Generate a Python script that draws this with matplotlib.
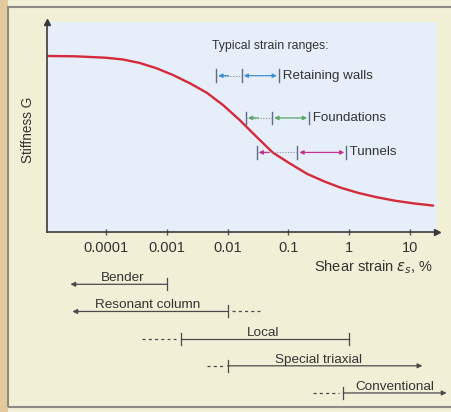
import numpy as np
import matplotlib.pyplot as plt
from matplotlib.patches import Rectangle

plt.rcParams['font.family'] = ['Liberation Sans', 'DejaVu Sans']

# stiffness degradation curve (normalised G vs shear strain in %)
strain = [1.07e-5, 3.16e-5, 1e-4, 1.9e-4, 3.6e-4, 6.8e-4, 1.26e-3, 2.4e-3, 4.6e-3,
          8.5e-3, 0.0158, 0.0295, 0.055, 0.105, 0.204, 0.39, 0.72, 1.41, 2.8,
          5.6, 11.2, 24]
stiffness = [1.0, 0.998, 0.99, 0.98, 0.96, 0.93, 0.892, 0.845, 0.79,
             0.72, 0.636, 0.543, 0.452, 0.39, 0.33, 0.287, 0.252, 0.222, 0.198,
             0.178, 0.163, 0.15]

xticks = [1e-4, 1e-3, 1e-2, 1e-1, 1, 10]
xticklabels = ['0.0001', '0.001', '0.01', '0.1', '1', '10']

# typical strain ranges: start, mid, end strain, level on G axis, colour
app_labels = ['Retaining walls', 'Foundations', 'Tunnels']
app_start = [0.0065, 0.020, 0.030]
app_mid = [0.017, 0.054, 0.14]
app_end = [0.07, 0.22, 0.9]
app_level = [0.888, 0.648, 0.452]
app_colors = ['#3d8fd6', '#5aa866', '#c2338f']

# measurement techniques below the axis
tech_labels = ['Bender', 'Resonant column', 'Local', 'Special triaxial', 'Conventional']
tech_dash_from = [None, None, 3.9e-4, 4.6e-3, 0.25]
tech_tick = [1e-3, 0.01, 0.0017, 0.01, 0.8]
tech_solid_to = [2.6e-5, 2.8e-5, 1.0, 16, 40]
tech_end_style = ['arrow', 'arrow', 'tick', 'arrow', 'arrow']
tech_dash_after = [None, 0.034, None, None, None]
tech_label_x = [1.9e-4, 4.9e-4, 0.038, 0.31, 5.6]

W, H = 452, 412
fig = plt.figure(figsize=(W / 100, H / 100), dpi=100)
fig.patch.set_facecolor('#f1efd6')
fig.patches.append(Rectangle((0, 0), 8 / W, 1, transform=fig.transFigure,
                             facecolor='#e4c99c', edgecolor='none', zorder=0))
fig.patches.append(Rectangle((8 / W, 5 / H), 1, 1 - 12 / H, transform=fig.transFigure,
                             facecolor='none', edgecolor='#8c8c82', lw=1.5, zorder=1))

# main axes
ax = fig.add_axes([47 / W, (H - 232) / H, 390 / W, 210 / H])
ax.set_facecolor('#e6eef9')
ax.set_xscale('log')
ax.set_xlim(10 ** -4.97, 10 ** 1.444)
ax.set_ylim(0, 1.193)
ax.plot(strain, stiffness, color='#d42a3c', lw=1.7, solid_capstyle='round')

ax.set_xticks(xticks)
ax.set_xticklabels(xticklabels)
ax.minorticks_off()
ax.set_yticks([])
ax.tick_params(axis='x', direction='inout', length=5, width=1, color='#555555',
               labelsize=10.5, labelcolor='#333333', pad=4)
for s in ['top', 'right']:
    ax.spines[s].set_visible(False)
for s in ['left', 'bottom']:
    ax.spines[s].set_color('#3a3a3a')
    ax.spines[s].set_linewidth(1.2)
ax.plot(1, 0, '>', color='#3a3a3a', ms=4, transform=ax.transAxes, clip_on=False)
ax.plot(0, 1, '^', color='#3a3a3a', ms=4, transform=ax.transAxes, clip_on=False)

ax.set_ylabel('Stiffness G', fontsize=9.8, color='#333333')
ax.yaxis.set_label_coords(-0.031, 0.486)
ax.text(0.99, -0.167, r'Shear strain $\varepsilon_s$, %', transform=ax.transAxes,
        ha='right', va='center', fontsize=10.5, color='#333333')

ax.text(0.0055, 1.058, 'Typical strain ranges:', fontsize=8.8, color='#333333',
        va='center', ha='left')
tick_h = 0.036
for lab, a, b, c, lev, col in zip(app_labels, app_start, app_mid, app_end, app_level, app_colors):
    for xv in (a, b, c):
        ax.plot([xv, xv], [lev - tick_h, lev + tick_h], color='#5d6b86', lw=1)
    ax.plot([a, b], [lev, lev], color='#8a8f98', lw=0.8, ls=(0, (1, 1.5)))
    ax.annotate('', xy=(a, lev), xytext=(9, 0), textcoords='offset points',
                arrowprops=dict(arrowstyle='-|>', color=col, lw=0.9, mutation_scale=6,
                                shrinkA=0, shrinkB=1.5))
    ax.annotate('', xy=(c, lev), xytext=(b, lev),
                arrowprops=dict(arrowstyle='<|-|>', color=col, lw=0.9, mutation_scale=6,
                                shrinkA=1.5, shrinkB=1.5))
    ax.text(c, lev, ' ' + lab, fontsize=9.6, color='#333333', va='center', ha='left')

# lower axes for the test techniques, spanning the full figure width
ax2 = fig.add_axes([0, 0, 1, (H - 268) / H])
ax2.set_xscale('log')
ax2.set_xlim(10 ** -5.743, 10 ** 1.691)
ax2.set_ylim(4.7, -0.6)
ax2.axis('off')

line_col = '#4a4a4a'
for i, lab in enumerate(tech_labels):
    t = tech_tick[i]
    e = tech_solid_to[i]
    if tech_end_style[i] == 'arrow':
        ax2.annotate('', xy=(e, i), xytext=(t, i),
                     arrowprops=dict(arrowstyle='-|>', color=line_col, lw=0.9,
                                     mutation_scale=7, shrinkA=0, shrinkB=0))
    else:
        ax2.plot([t, e], [i, i], color=line_col, lw=0.9)
        ax2.plot([e, e], [i - 0.22, i + 0.22], color=line_col, lw=0.9)
    ax2.plot([t, t], [i - 0.22, i + 0.22], color=line_col, lw=0.9)
    if tech_dash_from[i] is not None:
        ax2.plot([tech_dash_from[i], t * 0.85], [i, i], color=line_col, lw=0.9,
                 ls=(0, (2.5, 2.5)))
    if tech_dash_after[i] is not None:
        ax2.plot([t * 1.2, tech_dash_after[i]], [i, i], color=line_col, lw=0.9,
                 ls=(0, (2.5, 2.5)))
    ax2.text(tech_label_x[i], i - 0.22, lab, fontsize=9.7, color='#333333',
             ha='center', va='center')

fig.savefig('out.png', dpi=100, facecolor=fig.get_facecolor())
